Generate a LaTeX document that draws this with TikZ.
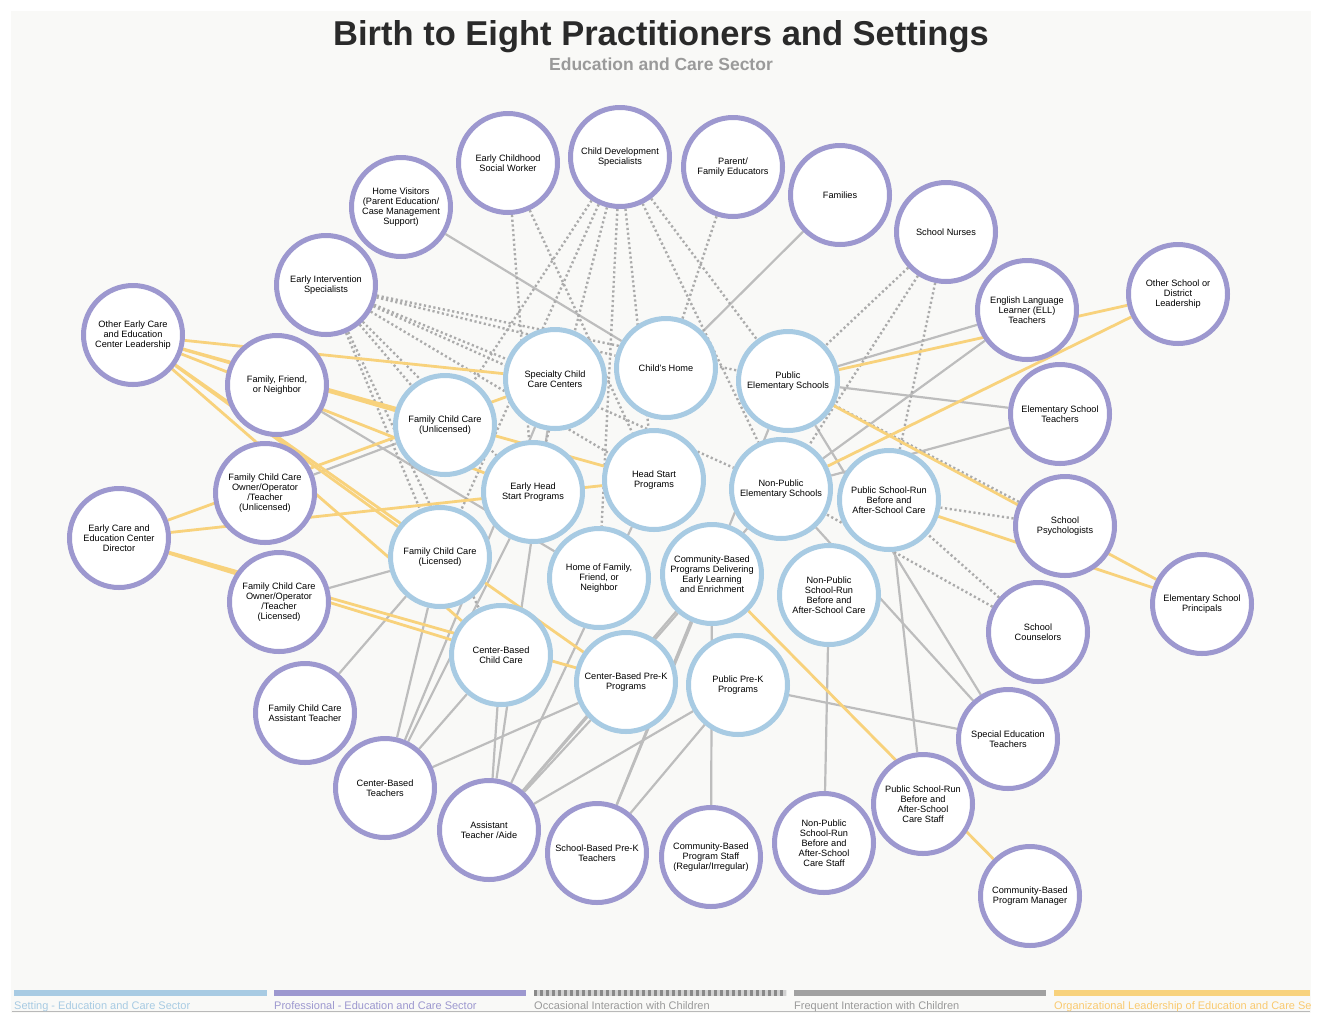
\documentclass[tikz,border=0pt]{standalone}
\usepackage{fontspec}
\setmainfont{Liberation Sans}
\definecolor{setblue}{HTML}{A8CBE3}
\definecolor{profpurple}{HTML}{9D98CF}
\definecolor{leadyellow}{HTML}{F8D27C}
\definecolor{freqgray}{HTML}{BDBDBD}
\definecolor{occgray}{HTML}{ABABAB}
\definecolor{panel}{HTML}{F9F9F7}
\definecolor{titlegray}{HTML}{2A2A2A}
\definecolor{subgray}{HTML}{9A9A9A}
\pgfdeclarelayer{back}
\pgfdeclarelayer{edges}
\pgfsetlayers{back,edges,main}
\begin{document}
\begin{tikzpicture}[x=1pt,y=-1pt,
  setnode/.style={circle, draw=setblue, fill=white, line width=5pt, minimum size=99pt, inner sep=1pt, align=center, font=\fontsize{9.2}{10}\selectfont},
  profnode/.style={setnode, draw=profpurple},
  freq/.style={freqgray, line width=2.2pt},
  occ/.style={occgray, line width=2.4pt, dash pattern=on 2.2pt off 2.6pt},
  orgl/.style={leadyellow, line width=2.8pt},
  legtext/.style={anchor=base west, font=\fontsize{11}{12}\selectfont, inner sep=0pt}]
\useasboundingbox (0,0) rectangle (1317,1013);
\begin{pgfonlayer}{back}
\fill[white] (0,0) rectangle (1317,1013);
\fill[panel] (11,11) rectangle (1311,1013);
\draw[gray!55, line width=1pt] (12,1011.5) -- (1310,1011.5);
\end{pgfonlayer}

% title
\node[anchor=base, font=\fontsize{34.5}{36}\selectfont\bfseries, text=titlegray, inner sep=0pt] (title) at (661,45) {Birth to Eight Practitioners and Settings};
\node[anchor=base, font=\fontsize{17.5}{18}\selectfont\bfseries, text=subgray, inner sep=0pt] (subtitle) at (661,70) {Education and Care Sector};

% settings
\node[setnode] (spec) at (555,379) {Specialty Child\\Care Centers};
\node[setnode] (ch) at (666,368) {Child's Home};
\node[setnode] (pes) at (788,381) {Public\\Elementary Schools};
\node[setnode] (fccu) at (445,425) {Family Child Care\\(Unlicensed)};
\node[setnode] (ehs) at (533,492) {Early Head\\Start Programs};
\node[setnode] (hs) at (654,480) {Head Start\\Programs};
\node[setnode] (npes) at (781,489) {Non-Public\\Elementary Schools};
\node[setnode] (psr) at (889,500) {Public School-Run\\Before and\\After-School Care};
\node[setnode] (fccl) at (440,557) {Family Child Care\\(Licensed)};
\node[setnode] (hffn) at (599,578) {Home of Family,\\Friend, or\\Neighbor};
\node[setnode] (cbp) at (712,574) {Community-Based\\Programs Delivering\\Early Learning\\and Enrichment};
\node[setnode] (npsr) at (829,595) {Non-Public\\School-Run\\Before and\\After-School Care};
\node[setnode] (cbcc) at (501,655) {Center-Based\\Child Care};
\node[setnode] (cbpk) at (626,682) {Center-Based Pre-K\\Programs};
\node[setnode] (ppk) at (738,685) {Public Pre-K\\Programs};

% professionals
\node[profnode] (ecsw) at (508,163) {Early Childhood\\Social Worker};
\node[profnode] (cds) at (620,157) {Child Development\\Specialists};
\node[profnode] (pfe) at (733,167) {Parent/\\Family Educators};
\node[profnode] (fam) at (840,195) {Families};
\node[profnode] (sn) at (946,232) {School Nurses};
\node[profnode] (hv) at (401,207) {Home Visitors\\(Parent Education/\\Case Management\\Support)};
\node[profnode] (eis) at (326,285) {Early Intervention\\Specialists};
\node[profnode] (oecl) at (133,335) {Other Early Care\\and Education\\Center Leadership};
\node[profnode] (ffn) at (277,385) {Family, Friend,\\or Neighbor};
\node[profnode] (ell) at (1027,310) {English Language\\Learner (ELL)\\Teachers};
\node[profnode] (odl) at (1178,294) {Other School or\\District\\Leadership};
\node[profnode] (est) at (1060,414) {Elementary School\\Teachers};
\node[profnode] (ownu) at (265,493) {Family Child Care\\Owner/Operator\\/Teacher\\(Unlicensed)};
\node[profnode] (dir) at (119,538) {Early Care and\\Education Center\\Director};
\node[profnode] (psy) at (1065,526) {School\\Psychologists};
\node[profnode] (prin) at (1202,604) {Elementary School\\Principals};
\node[profnode] (ownl) at (279,602) {Family Child Care\\Owner/Operator\\/Teacher\\(Licensed)};
\node[profnode] (cou) at (1038,632) {School\\Counselors};
\node[profnode] (fcat) at (305,713) {Family Child Care\\Assistant Teacher};
\node[profnode] (sed) at (1008,739) {Special Education\\Teachers};
\node[profnode] (cbt) at (385,788) {Center-Based\\Teachers};
\node[profnode] (aide) at (489,830) {Assistant\\Teacher /Aide};
\node[profnode] (sbpk) at (597,853) {School-Based Pre-K\\Teachers};
\node[profnode] (cbps) at (711,857) {Community-Based\\Program Staff\\(Regular/Irregular)};
\node[profnode] (npss) at (824,843) {Non-Public\\School-Run\\Before and\\After-School\\Care Staff};
\node[profnode] (pss) at (923,804) {Public School-Run\\Before and\\After-School\\Care Staff};
\node[profnode] (cpm) at (1030,896) {Community-Based\\Program Manager};

% connectors
\begin{pgfonlayer}{edges}
\foreach \a/\b in {hv/ch, fam/ch, ell/pes, ell/npes, est/pes, est/npes, sed/pes, sed/npes, sed/ppk,
  psr/pss, npsr/npss, cbps/cbp, fcat/fccl, ownl/fccl, ownu/fccu, ffn/hffn,
  cbt/cbcc, cbt/cbpk, cbt/spec, cbt/ehs, cbt/fccl,
  aide/cbcc, aide/spec, aide/cbpk, aide/ppk, aide/cbp, aide/hs, aide/npes,
  sbpk/cbp, sbpk/ppk, sbpk/pes}
  \draw[freq] (\a) -- (\b);
\foreach \a/\b in {eis/spec, eis/ch, eis/pes, eis/hs, eis/npes, eis/fccu, eis/ehs, eis/fccl, eis/cbcc,
  ecsw/ehs, ecsw/hs, cds/fccu, cds/ehs, cds/fccl, cds/hffn, cds/hs, cds/npes, cds/pes,
  pfe/ch, sn/pes, sn/npes, sn/psr, psy/psr, psy/pes, cou/npes, cou/psr}
  \draw[occ] (\a) -- (\b);
\foreach \a/\b in {oecl/spec, oecl/fccu, oecl/ehs, oecl/hs, oecl/fccl, oecl/cbcc, oecl/cbpk,
  dir/spec, dir/hs, dir/cbcc, dir/cbpk, odl/pes, odl/npes, prin/pes, prin/psr, cpm/cbp}
  \draw[orgl] (\a) -- (\b);
\end{pgfonlayer}

% legend
\draw[setblue, line width=6pt] (14,993) -- (267,993);
\draw[profpurple, line width=6pt] (274,993) -- (526,993);
\draw[occgray!55, line width=6pt] (534,993) -- (786,993);
\draw[occgray!80!black, line width=6pt, dash pattern=on 3pt off 3pt] (534,993) -- (786,993);
\draw[freqgray!85!black, line width=6pt] (794,993) -- (1046,993);
\draw[leadyellow, line width=6pt] (1054,993) -- (1310,993);
\node[legtext, text=setblue] (l1) at (14,1009) {Setting - Education and Care Sector};
\node[legtext, text=profpurple] (l2) at (274,1009) {Professional - Education and Care Sector};
\node[legtext, text=subgray] (l3) at (534,1009) {Occasional Interaction with Children};
\node[legtext, text=subgray] (l4) at (794,1009) {Frequent Interaction with Children};
\begin{scope}
\clip (1000,980) rectangle (1310,1013);
\node[legtext, text=leadyellow!90!orange] (l5) at (1054,1009) {Organizational Leadership of Education and Care Sector};
\end{scope}
\end{tikzpicture}
\end{document}
